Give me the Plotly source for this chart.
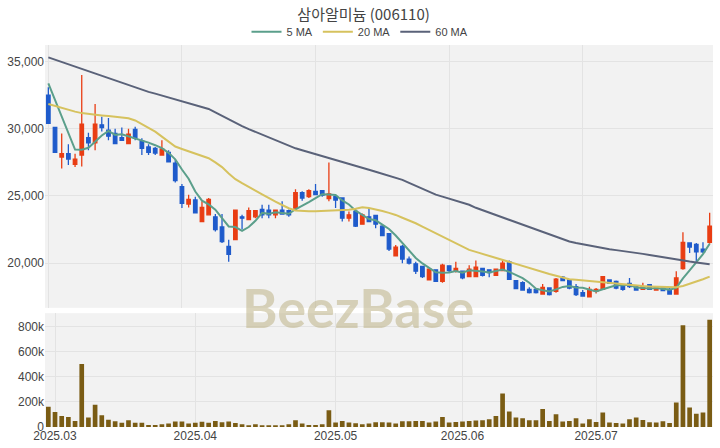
import plotly.graph_objects as go
import pandas as pd

# ---------------- data ----------------
month_idx = [1, 22, 43, 62, 82]
month_labels = ["2025.03", "2025.04", "2025.05", "2025.06", "2025.07"]

open_ = [32500, 30100, 27900, 28150, 27350, 28050, 29350, 28950, 30300, 29900,
         29650, 29350, 28900, 29950, 29100, 28650, 28550, 28050, 28250, 27450,
         25700, 24400, 24700, 23100, 23600, 23450, 22700, 21250, 21750, 23450,
         23250, 23450, 24000, 23950, 23600, 23950, 23900, 24100, 25250, 24950,
         25350, 25400, 24800, 24950, 24850, 23350, 23850, 22900, 23450, 23550,
         22750, 22200, 20550, 21250, 20300, 19950, 19750, 18750, 19500, 18650,
         19800, 19400, 19400, 19000, 19000, 19600, 19500, 19100, 19450, 20100,
         18700, 18550, 18050, 18050, 17700, 18150, 17900, 18950, 18750, 18250,
         17800, 17500, 17900, 18050, 18750, 18650, 18400, 18500, 18300, 18050,
         18400, 18000, 18150, 18050, 17700, 19600, 21500, 21400, 21050, 21550]
high_ = [33100, 30150, 29650, 28850, 28150, 34000, 29700, 31850, 30900, 30800,
         30000, 30100, 30000, 30150, 29300, 28850, 28650, 29150, 28400, 27750,
         25900, 25100, 24950, 24600, 24850, 23650, 23650, 21750, 24000, 23600,
         24150, 23950, 24350, 24350, 24000, 24600, 24000, 25500, 25350, 25500,
         25900, 25450, 27500, 25000, 24850, 23850, 24100, 23700, 24100, 23600,
         22850, 22250, 21350, 21350, 20500, 20100, 19800, 19600, 19550, 19950,
         19850, 20100, 19450, 19850, 20200, 19650, 19550, 19600, 20300, 20200,
         18750, 18650, 18200, 18150, 18450, 18200, 18900, 19050, 18800, 18450,
         18000, 18250, 18150, 19050, 18800, 18700, 18450, 18900, 18350, 18550,
         18450, 18250, 18200, 18150, 19400, 22300, 21550, 21500, 21550, 23750]
low_ = [30350, 28200, 27050, 27300, 27150, 27200, 28400, 28400, 29800, 29150,
        28850, 29100, 28850, 29150, 28050, 28050, 28050, 28050, 27500, 26000,
        24100, 24150, 23700, 23050, 23550, 22350, 21500, 20100, 21700, 22500,
        23200, 23350, 23350, 23350, 23350, 23600, 23450, 24000, 24650, 24850,
        25050, 24950, 24600, 24100, 23100, 23100, 22700, 22850, 23050, 22600,
        22000, 20900, 20500, 20000, 19900, 19200, 18900, 18750, 18600, 18550,
        19300, 19300, 18800, 18950, 18950, 19000, 18950, 19050, 19400, 18750,
        18050, 17950, 17750, 17750, 17650, 17600, 17800, 18650, 18050, 17550,
        17500, 17450, 17750, 18000, 18450, 18050, 17950, 18150, 17950, 18000,
        18000, 17950, 17900, 17650, 17650, 19500, 20750, 20100, 20750, 21450]
close_ = [30400, 28250, 28150, 27750, 27750, 30350, 28950, 30350, 30100, 29450,
          28900, 29150, 29600, 29300, 28550, 28250, 28200, 28500, 27550, 26150,
          24450, 24750, 23750, 24150, 24750, 22500, 21600, 20650, 23950, 23350,
          23900, 23900, 23600, 23600, 23950, 23650, 23600, 25250, 24850, 25400,
          25100, 25050, 25150, 24700, 23350, 23600, 22750, 23600, 23100, 22900,
          22050, 21050, 21200, 20300, 20000, 19400, 19000, 19550, 18650, 19850,
          19450, 19600, 18900, 19550, 19700, 19100, 19300, 19550, 20000, 18800,
          18100, 18000, 17800, 17800, 18200, 17650, 18800, 18700, 18150, 17650,
          17550, 18050, 18050, 19000, 18500, 18150, 18050, 18250, 18000, 18250,
          18050, 18200, 17950, 17700, 18900, 21550, 21200, 20850, 20850, 22750]
volume_k = [160, 120, 88, 80, 48, 501, 75, 176, 93, 58,
            45, 33, 54, 33, 33, 16, 16, 21, 27, 44,
            44, 27, 33, 41, 34, 48, 38, 43, 31, 21,
            12, 21, 10, 10, 10, 11, 21, 53, 27, 16,
            16, 21, 134, 35, 48, 35, 29, 21, 27, 37,
            37, 35, 27, 45, 45, 48, 48, 35, 43, 80,
            35, 40, 43, 48, 51, 53, 61, 88, 267, 123,
            75, 69, 53, 53, 144, 48, 101, 43, 48, 69,
            27, 61, 40, 115, 35, 32, 27, 61, 75, 56,
            37, 35, 45, 32, 195, 808, 155, 106, 115, 853]
# first four 5-day averages need closes from before the window
ma5_head = [33390, 32160, 30920, 29690]
ma20 = [31850, 31700, 31560, 31420, 31280, 31170, 31100, 31050, 31000, 30950,
        30900, 30850, 30780, 30620, 30350, 30080, 29790, 29420, 29050, 28680,
        28500, 28320, 28150, 27980, 27810, 27500, 27150, 26680, 26250, 25950,
        25700, 25400, 25120, 24830, 24580, 24330, 24090, 23920, 23870, 23860,
        23870, 23890, 23910, 23930, 23950, 23980, 24050, 24160, 24100, 24010,
        23880, 23740, 23590, 23380, 23180, 22970, 22720, 22480, 22230, 21980,
        21730, 21480, 21230, 20990, 20840, 20690, 20540, 20390, 20240, 20080,
        19920, 19760, 19600, 19450, 19320, 19190, 19060, 18940, 18810, 18760,
        18710, 18660, 18610, 18560, 18510, 18460, 18410, 18360, 18310, 18290,
        18270, 18250, 18230, 18210, 18210, 18300, 18450, 18620, 18800, 19000]
ma60 = [35320, 35150, 34980, 34800, 34620, 34450, 34270, 34100, 33950, 33800,
        33620, 33450, 33270, 33080, 32900, 32750, 32620, 32480, 32350, 32200,
        32070, 31930, 31800, 31650, 31480, 31230, 30970, 30700, 30430, 30200,
        29980, 29770, 29560, 29350, 29130, 28920, 28700, 28550, 28400, 28250,
        28100, 27950, 27800, 27650, 27510, 27370, 27230, 27090, 26950, 26810,
        26670, 26530, 26390, 26200, 25980, 25760, 25540, 25320, 25100, 24950,
        24800, 24650, 24500, 24350, 24120, 23940, 23760, 23580, 23400, 23220,
        23040, 22860, 22680, 22500, 22320, 22140, 21960, 21780, 21610, 21500,
        21400, 21300, 21210, 21120, 21040, 20970, 20910, 20860, 20780, 20690,
        20610, 20520, 20440, 20360, 20270, 20190, 20120, 20050, 19980, 19920]

# ---------------- derived ----------------
n = len(close_)
x = list(range(n))
ma5 = pd.Series(close_).rolling(5).mean().tolist()
ma5[:4] = ma5_head
volume = [v * 1000 for v in volume_k]

RED = "#e93d13"
BLUE = "#1f5bcb"
VOL = "#7a5c14"
C5 = "#5b9f8b"
C20 = "#d6c25e"
C60 = "#5a6279"
GRID = "#e3e3e3"
BG = "#f2f2f2"
TXT = "#444444"

fig = go.Figure()
fig.add_trace(go.Candlestick(
    x=x, open=open_, high=high_, low=low_, close=close_,
    increasing=dict(line=dict(color=RED, width=1.3), fillcolor=RED),
    decreasing=dict(line=dict(color=BLUE, width=1.3), fillcolor=BLUE),
    showlegend=False, xaxis="x", yaxis="y", hoverinfo="skip"))
fig.add_trace(go.Scatter(x=x, y=ma5, mode="lines", name="5 MA",
                         line=dict(color=C5, width=2), xaxis="x", yaxis="y"))
fig.add_trace(go.Scatter(x=x, y=ma20, mode="lines", name="20 MA",
                         line=dict(color=C20, width=2), xaxis="x", yaxis="y"))
fig.add_trace(go.Scatter(x=x, y=ma60, mode="lines", name="60 MA",
                         line=dict(color=C60, width=2), xaxis="x", yaxis="y"))
fig.add_trace(go.Bar(x=x, y=volume, marker=dict(color=VOL, line=dict(width=0)),
                     showlegend=False, xaxis="x2", yaxis="y2"))

fig.update_layout(
    width=720, height=448,
    margin=dict(l=45, r=7, t=45, b=21, autoexpand=False),
    paper_bgcolor="white", plot_bgcolor=BG,
    font=dict(family="Liberation Sans, Noto Sans CJK KR, sans-serif", size=12, color=TXT),
    title=dict(text="삼아알미늄 (006110)", x=0.505, xanchor="center", y=0.968, yanchor="middle",
               font=dict(family="Noto Sans CJK KR, sans-serif", size=15, color=TXT)),
    legend=dict(orientation="h", xref="container", yref="container",
                x=0.5, xanchor="center", y=0.929, yanchor="middle",
                font=dict(size=11, color=TXT), bgcolor="rgba(0,0,0,0)"),
    bargap=0.3, boxgap=0.25,
    hovermode=False,
    xaxis=dict(domain=[0, 1], anchor="y", range=[-0.5, n - 0.5], tick0=0, dtick=20,
               showticklabels=False, showgrid=True, gridcolor=GRID, zeroline=False,
               rangeslider=dict(visible=False), fixedrange=True, automargin=False),
    yaxis=dict(domain=[0.312, 1], range=[16675, 36240],
               tickvals=[20000, 25000, 30000, 35000], tickformat=",",
               showgrid=True, gridcolor=GRID, zeroline=False, ticks="", fixedrange=True,
               automargin=False),
    xaxis2=dict(domain=[0, 1], anchor="y2", range=[-0.5, n - 0.5],
                tickmode="array", tickvals=month_idx, ticktext=month_labels,
                showgrid=True, gridcolor=GRID, zeroline=False, ticks="", fixedrange=True,
                automargin=False),
    yaxis2=dict(domain=[0, 0.298], range=[0, 905000],
                tickvals=[0, 200000, 400000, 600000, 800000],
                ticktext=["0", "200k", "400k", "600k", "800k"],
                showgrid=True, gridcolor=GRID, zeroline=False, ticks="", fixedrange=True,
                automargin=False),
    annotations=[dict(text="<b>BeezBase</b>", xref="paper", yref="paper",
                      x=0.468, y=0.312, xanchor="center", yanchor="middle",
                      showarrow=False,
                      font=dict(family="Lato, Liberation Sans, sans-serif", size=54,
                                color="rgba(190,178,135,0.55)"))],
)

fig.write_html("out.html", config={"displayModeBar": False},
               post_script="document.body.style.margin='0';document.body.style.padding='0';")
